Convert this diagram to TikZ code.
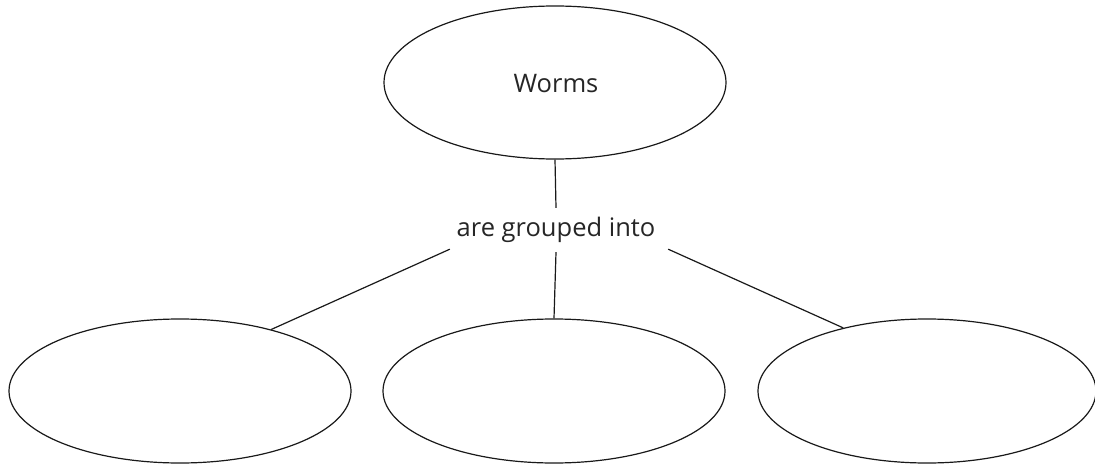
\documentclass[tikz,border=0pt]{standalone}
\usepackage{fontspec}
\setmainfont{Open Sans}
\usetikzlibrary{shapes.geometric}
\begin{document}
\begin{tikzpicture}[x=1pt,y=-1pt,
  oval/.style={draw=black!90, line width=1.2pt, ellipse, inner sep=0pt, minimum width=342pt, minimum height=144pt},
  link/.style={draw=black!90, line width=1.2pt},
  lbl/.style={inner sep=0pt, minimum width=218pt, minimum height=44pt, font=\fontsize{25.5}{30}\selectfont, text=black!85}]
\useasboundingbox (0,0) rectangle (1095,476);
\fill[white] (0,0) rectangle (1095,476);
\node[oval, minimum height=153pt] (top) at (555,82.5) {};
\node[lbl] (worms) at (556,84) {Worms};
\node[lbl] (grp) at (556,230) {are grouped into};
\node[oval] (l) at (180,391) {};
\node[oval] (m) at (554,391) {};
\node[oval, minimum width=338pt] (r) at (927,391) {};
\draw[link] (top.south) -- (grp.north);
\draw[link] (grp.south) -- (m.north);
\draw[link] ([xshift=3pt,yshift=3pt]grp.south west) -- (l.34);
\draw[link] ([xshift=3pt,yshift=3pt]grp.south east) -- (r.143.5);
\end{tikzpicture}
\end{document}
